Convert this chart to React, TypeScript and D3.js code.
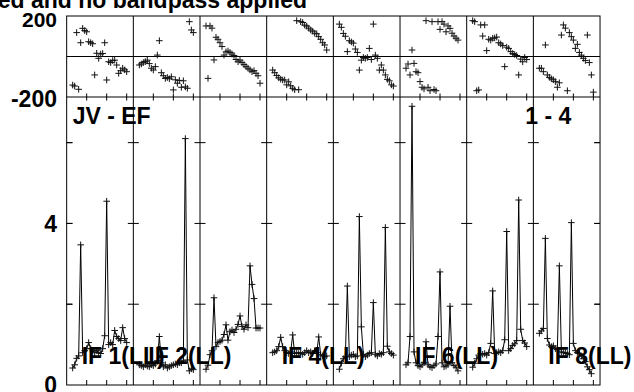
import React from 'react';
import * as d3 from 'd3';

// ---- data (channels 3..30 for every IF) ----
const CHANNELS = [3, 4, 5, 6, 7, 8, 9, 10, 11, 12, 13, 14, 15, 16, 17, 18, 19, 20, 21, 22, 23, 24, 25, 26, 27, 28, 29, 30];

const AMP_IF1 = [0.42, 0.5, 0.66, 0.72, 3.47, 0.8, 0.85, 0.9, 1.05, 0.9, 0.85, 0.8, 0.85, 0.8, 0.78, 0.9, 1.22, 4.55, 1.0, 1.05, 1.0, 1.35, 1.2, 1.15, 1.1, 1.42, 1.15, 1.05];
const AMP_IF2 = [0.5, 0.48, 0.45, 0.5, 0.47, 0.45, 0.5, 0.48, 0.52, 0.6, 1.2, 0.55, 0.45, 0.5, 0.42, 0.45, 0.48, 0.5, 0.52, 0.5, 0.55, 0.55, 0.6, 6.1, 0.62, 0.35, 0.4, 0.38];
const AMP_IF3 = [0.39, 0.49, 0.75, 0.85, 2.16, 0.95, 1.05, 1.08, 1.11, 1.25, 1.49, 1.11, 1.32, 1.36, 1.3, 1.38, 1.5, 1.71, 1.45, 1.38, 1.49, 1.42, 2.95, 2.49, 2.14, 1.41, 1.41, 1.41];
const AMP_IF4 = [0.8, 0.82, 0.85, 0.95, 1.18, 0.95, 0.85, 0.8, 0.78, 0.82, 1.24, 0.78, 0.8, 0.78, 0.8, 0.76, 0.8, 0.85, 0.8, 0.82, 0.78, 0.85, 0.8, 1.19, 0.75, 0.72, 0.7, 0.72];
const AMP_IF5 = [0.39, 0.54, 0.65, 0.7, 2.45, 0.7, 0.74, 0.76, 0.7, 0.72, 4.17, 1.44, 0.76, 0.7, 0.74, 0.78, 0.8, 2.04, 0.76, 0.72, 0.78, 0.76, 0.8, 3.9, 0.96, 0.82, 0.78, 0.74];
const AMP_IF6 = [0.5, 0.55, 1.2, 6.9, 0.82, 0.55, 0.48, 0.45, 0.5, 0.55, 1.07, 0.5, 0.45, 0.43, 0.48, 0.52, 1.2, 2.8, 0.55, 0.45, 0.47, 0.5, 1.95, 0.55, 0.48, 0.44, 0.35, NaN];
const AMP_IF7 = [0.44, 0.54, 0.65, 0.74, 0.78, 0.76, 0.78, 0.74, 0.8, 1.03, 2.33, 0.78, 0.8, 0.82, 0.8, 0.85, 1.12, 3.8, 0.85, 0.9, 0.98, 1.02, 1.1, 4.58, 1.38, 1.1, 1.04, 0.95];
const AMP_IF8 = [1.28, 1.34, 1.4, 3.63, 1.15, 0.99, 0.95, 0.97, 0.9, 0.88, 2.95, 0.82, 0.8, 0.8, 0.78, 0.75, 4.02, 1.03, 0.85, 0.8, 0.78, 0.72, 0.65, 0.58, 0.45, 0.38, 0.28, NaN];

const PHASE_IF1 = [-141, -146, 118, -162, 68, 139, 128, 122, 73, 68, 63, -91, 16, -9, 12, 15, 68, -116, -26, -30, -20, -18, -42, -83, -70, -58, -66, -75];
const PHASE_IF2 = [-42, -37, -30, -25, -18, -35, -58, -67, -50, 7, 78, -80, -95, -108, -104, -110, -100, -165, -115, -132, -118, -152, -120, -150, -157, 172, 131, 118];
const PHASE_IF3 = [151, -108, 151, 140, -17, 95, 85, 68, 49, 7, 23, 27, 20, 12, 5, -15, -26, -18, -30, -40, -50, -58, -66, -75, -70, -83, -95, -132];
const PHASE_IF4 = [-67, -80, -94, -105, -112, -116, -116, -140, -125, -145, -157, -164, 177, -164, 172, 168, 155, 150, 140, 131, 125, 115, 112, 98, 85, 68, 57, 32];
const PHASE_IF5 = [160, 144, 114, 100, 24, 78, 72, 66, 37, 20, -67, -18, -5, -9, -5, 40, -15, 160, 7, -9, -67, -42, -67, -91, -113, -120, -140, -146];
const PHASE_IF6 = [-58, -37, -91, 32, -34, -75, -80, -124, -152, -160, 177, -152, -169, 172, -163, -169, 172, 134, 172, 160, 122, 151, 139, 115, 101, 90, 81, NaN];
const PHASE_IF7 = [177, 172, -169, -165, 156, 101, 156, 29, 85, 81, 90, 92, 96, 68, 62, 54, -50, 46, 40, 24, 15, 10, 5, -91, -13, -26, -5, -15];
const PHASE_IF8 = [-58, -58, -75, 57, -91, -103, -110, -115, -124, -152, -130, 106, 156, 140, -169, 118, 98, 81, 40, 60, 20, 7, -9, -20, 106, -30, -91, -176];

const AMPS = [AMP_IF1, AMP_IF2, AMP_IF3, AMP_IF4, AMP_IF5, AMP_IF6, AMP_IF7, AMP_IF8];
const PHASES = [PHASE_IF1, PHASE_IF2, PHASE_IF3, PHASE_IF4, PHASE_IF5, PHASE_IF6, PHASE_IF7, PHASE_IF8];
const IF_LABELS = ['IF 1(LL)', 'IF 2(LL)', '', 'IF 4(LL)', '', 'IF 6(LL)', '', 'IF 8(LL)'];

const CHANNEL_TICKS = [10, 20, 30];
const AMP_TICKS = [2, 4, 6];
const AMP_TICK_LABELS = [{ v: 0, t: '0' }, { v: 4, t: '4' }];
const PHASE_TICK_LABELS = [{ v: 200, t: '200' }, { v: -200, t: '-200' }];
const TITLE = 'ed and no bandpass applied';
const BASELINE_LABEL = 'JV - EF';
const STOKES_LABEL = '1 - 4';

// ---- layout ----
const W = 634;
const H = 392;
const LEFT = 66.67;
const PANEL_W = 66.67;
const TOP = 16;
const MID = 97;
const BOTTOM = 385;
const N = 8;
const RIGHT = LEFT + PANEL_W * N;
const FONT = "'Liberation Sans', Arial, Helvetica, sans-serif";

const ampY = d3.scaleLinear().domain([0, 7.13]).range([BOTTOM, MID]);
const phY = d3.scaleLinear().domain([-200, 200]).range([MID, TOP]);

const cross = (x: number, y: number, s = 3.3) => `M${x - s},${y}H${x + s}M${x},${y - s}V${y + s}`;

export default function App() {
  const panels = AMPS.map((amp, i) => {
    const left = LEFT + i * PANEL_W;
    const x = d3.scaleLinear().domain([0, 33.33]).range([left, left + PANEL_W]);
    const ampPts = CHANNELS.map((c, k) => ({ c, v: amp[k] }));
    const line = d3
      .line<{ c: number; v: number }>()
      .defined((d) => !isNaN(d.v))
      .x((d) => x(d.c))
      .y((d) => ampY(d.v));
    const ampCross = ampPts
      .filter((d) => !isNaN(d.v))
      .map((d) => cross(x(d.c), ampY(d.v)))
      .join('');
    const phCross = CHANNELS.map((c, k) => ({ c, v: PHASES[i][k] }))
      .filter((d) => !isNaN(d.v))
      .map((d) => cross(x(d.c), phY(d.v)))
      .join('');
    const ticks = CHANNEL_TICKS.map((t) => {
      const tx = x(t);
      return `M${tx},${MID - 3.5}V${MID + 3.5}M${tx},${BOTTOM}V${BOTTOM - 5}`;
    }).join('');
    return { left, line: line(ampPts) || '', ampCross, phCross, ticks };
  });

  const borderTicks: string[] = [];
  for (let i = 0; i <= N; i++) {
    const bx = LEFT + i * PANEL_W;
    AMP_TICKS.forEach((t) => {
      const ty = ampY(t);
      const x0 = i === 0 ? bx : bx - 5.5;
      const x1 = i === N ? bx : bx + 5.5;
      borderTicks.push(`M${x0},${ty}H${x1}`);
      if (i === 0) borderTicks.push(`M${bx},${ty}H${bx + 6}`);
      if (i === N) borderTicks.push(`M${bx - 6},${ty}H${bx}`);
    });
  }

  return (
    <svg
      width={W}
      height={H}
      viewBox={`0 0 ${W} ${H}`}
      style={{ position: 'absolute', left: 0, top: 0, background: '#fff' }}
      fontFamily={FONT}
      fontWeight="bold"
    >
      <rect x={0} y={0} width={W} height={H} fill="#fff" />
      {/* frame */}
      <g stroke="#000" strokeWidth={1} fill="none">
        <rect x={LEFT} y={TOP} width={RIGHT - LEFT} height={BOTTOM - TOP} />
        <line x1={LEFT} x2={RIGHT} y1={MID} y2={MID} />
        <line x1={LEFT} x2={RIGHT} y1={phY(0)} y2={phY(0)} />
        {d3.range(1, N).map((i) => (
          <line key={i} x1={LEFT + i * PANEL_W} x2={LEFT + i * PANEL_W} y1={TOP} y2={BOTTOM} />
        ))}
        <path d={borderTicks.join('')} />
        {panels.map((p, i) => (
          <path key={i} d={p.ticks} />
        ))}
      </g>
      {/* data */}
      {panels.map((p, i) => (
        <g key={i} fill="none">
          <path d={p.line} stroke="#000" strokeWidth={1} />
          <path d={p.ampCross} stroke="#111" strokeWidth={1} />
          <path d={p.phCross} stroke="#111" strokeWidth={1} />
        </g>
      ))}
      {/* texts */}
      <g fill="#000">
        <text x={307} y={8} fontSize={23} textAnchor="end">{TITLE}</text>
        {PHASE_TICK_LABELS.map((l) => (
          <text
            key={l.t}
            x={57}
            y={l.v > 0 ? 27 : 106.5}
            fontSize={l.v > 0 ? 21 : 23}
            textAnchor="end"
          >
            {l.t}
          </text>
        ))}
        {AMP_TICK_LABELS.map((l) => (
          <text key={l.t} x={57} y={ampY(l.v) + 8.2} fontSize={23} textAnchor="end">
            {l.t}
          </text>
        ))}
        <text x={LEFT + 6} y={123.5} fontSize={23}>{BASELINE_LABEL}</text>
        <text x={571.3} y={123.5} fontSize={23} textAnchor="end">{STOKES_LABEL}</text>
        {IF_LABELS.map((t, i) =>
          t ? (
            <text key={i} x={LEFT + i * PANEL_W + 15} y={364} fontSize={23}>
              {t}
            </text>
          ) : null
        )}
      </g>
    </svg>
  );
}
